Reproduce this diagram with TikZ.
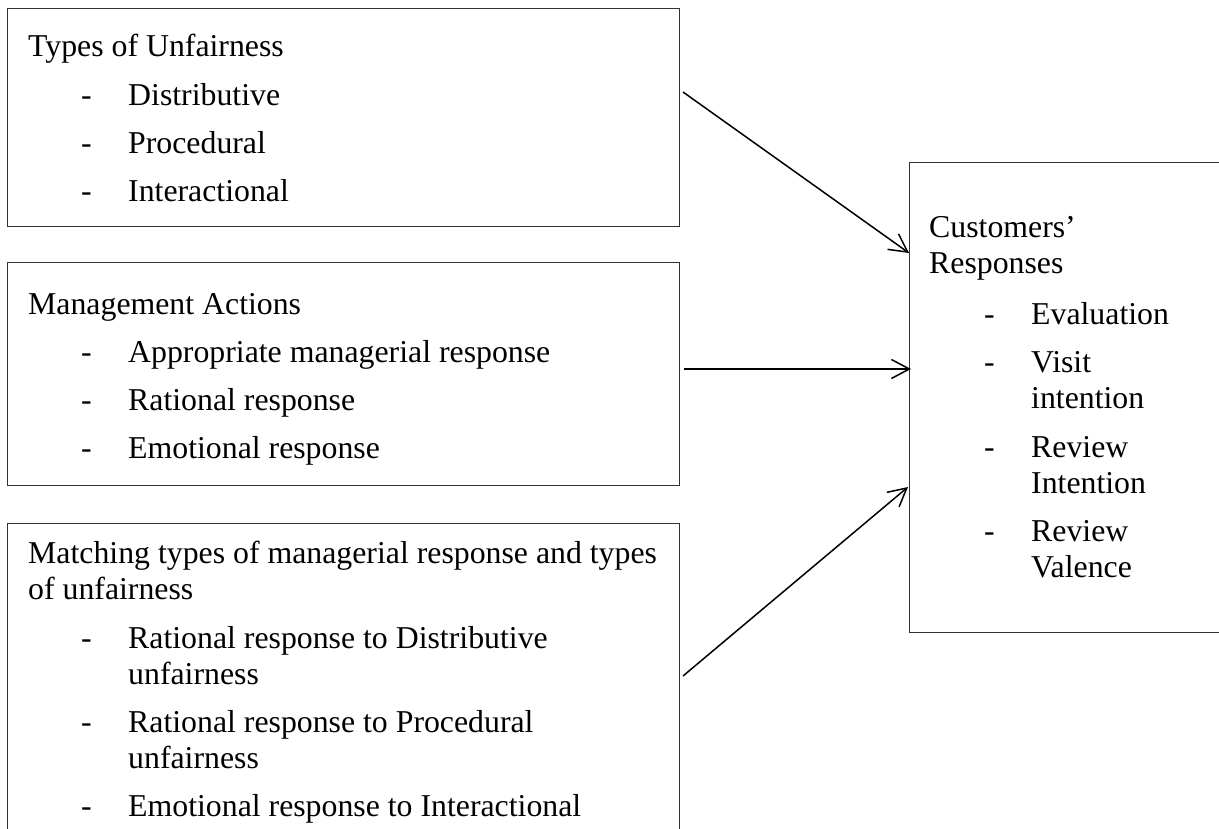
\documentclass[tikz,border=0pt]{standalone}
\usepackage{fontspec}
\setmainfont{Liberation Serif}
\usetikzlibrary{arrows.meta,calc}
\begin{document}
\begin{tikzpicture}[x=1pt,y=-1pt,
  box/.style={draw=black!80, line width=1pt, anchor=north west, inner sep=0pt},
  txt/.style={anchor=base west, inner sep=0pt, font=\fontsize{31.8}{36}\selectfont},
  arr/.style={line width=1.5pt, -{Straight Barb[length=18pt,width=19pt,line width=1.5pt]}}]
\useasboundingbox (0,0) rectangle (1219,829);
\clip (0,0) rectangle (1219,829);
% boxes
\node[box, minimum width=672pt, minimum height=218pt] (b1) at (7,8) {};
\node[box, minimum width=672pt, minimum height=223pt] (b2) at (7,262) {};
\node[box, minimum width=672pt, minimum height=377pt] (b3) at (7,523) {};
\node[box, minimum width=391pt, minimum height=470pt] (r) at (909,162) {};
% box 1
\node[txt] (t1) at (28,57) {Types of Unfairness};
\node[txt] (t1d1) at (81,106) {-};
\node[txt] (t1i1) at (128,106) {Distributive};
\node[txt] (t1d2) at (81,154) {-};
\node[txt] (t1i2) at (128,154) {Procedural};
\node[txt] (t1d3) at (81,202) {-};
\node[txt] (t1i3) at (128,202) {Interactional};
% box 2
\node[txt] (t2) at (28,315) {Management Actions};
\node[txt] (t2d1) at (81,362) {-};
\node[txt] (t2i1) at (128,362) {Appropriate managerial response};
\node[txt] (t2d2) at (81,410) {-};
\node[txt] (t2i2) at (128,410) {Rational response};
\node[txt] (t2d3) at (81,458) {-};
\node[txt] (t2i3) at (128,458) {Emotional response};
% box 3
\node[txt] (t3a) at (28,563) {Matching types of managerial response and types};
\node[txt] (t3b) at (28,599) {of unfairness};
\node[txt] (t3d1) at (81,648) {-};
\node[txt] (t3i1a) at (128,648) {Rational response to Distributive};
\node[txt] (t3i1b) at (128,684) {unfairness};
\node[txt] (t3d2) at (81,732) {-};
\node[txt] (t3i2a) at (128,732) {Rational response to Procedural};
\node[txt] (t3i2b) at (128,768) {unfairness};
\node[txt] (t3d3) at (81,816) {-};
\node[txt] (t3i3a) at (128,816) {Emotional response to Interactional};
% right box
\node[txt] (r1) at (929,238) {Customers’};
\node[txt] (r2) at (929,274) {Responses};
\node[txt] (rd1) at (984,324) {-};
\node[txt] (ri1) at (1031,324) {Evaluation};
\node[txt] (rd2) at (984,372) {-};
\node[txt] (ri2a) at (1031,372) {Visit};
\node[txt] (ri2b) at (1031,408) {intention};
\node[txt] (rd3) at (984,457) {-};
\node[txt] (ri3a) at (1031,457) {Review};
\node[txt] (ri3b) at (1031,493) {Intention};
\node[txt] (rd4) at (984,541) {-};
\node[txt] (ri4a) at (1031,541) {Review};
\node[txt] (ri4b) at (1031,577) {Valence};
% connectors
\draw[arr] ($(b1.north east)+(3,84)$) -- ($(r.north west)+(0,91)$);
\draw[arr] ($(b2.north east)+(4,107)$) -- ($(r.north west)+(2,207)$);
\draw[arr] ($(b3.north east)+(3,153)$) -- ($(r.north west)+(-1,325)$);
\end{tikzpicture}
\end{document}
